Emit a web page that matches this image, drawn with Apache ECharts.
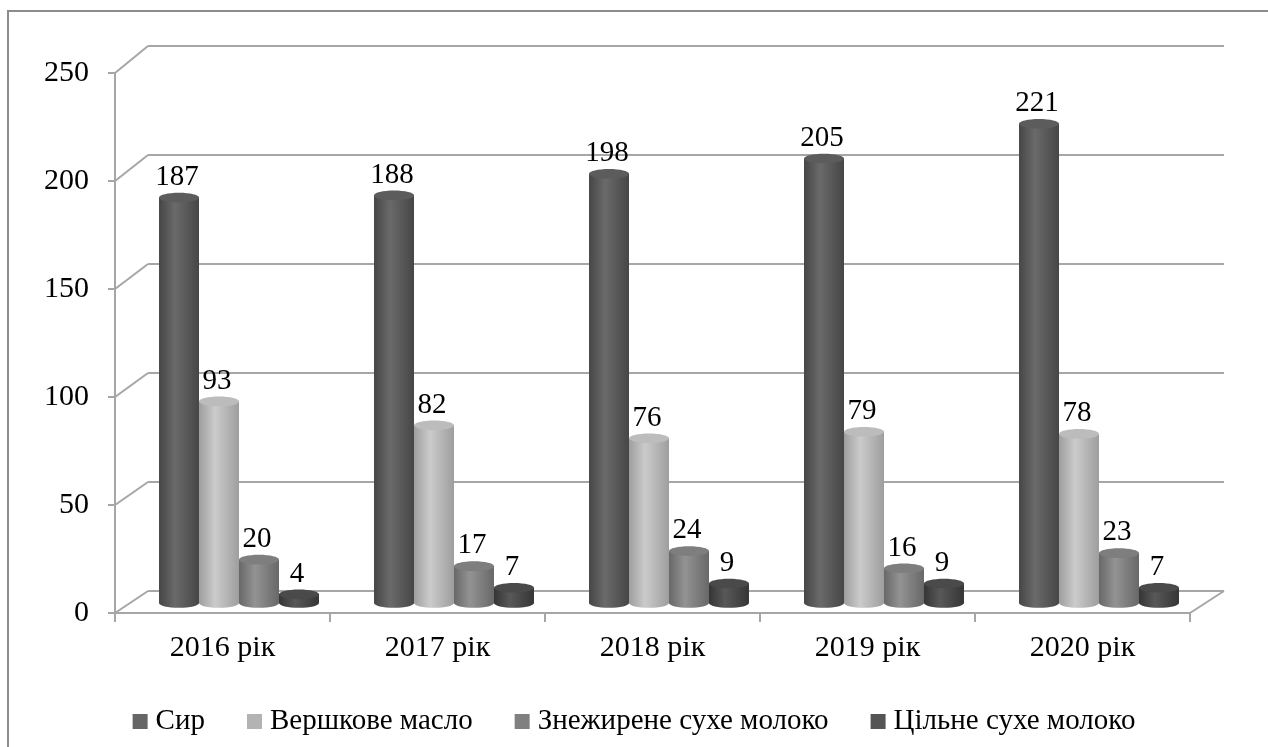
<!DOCTYPE html>
<html>
<head>
<meta charset="utf-8">
<script src="https://cdn.jsdelivr.net/npm/echarts@6/dist/echarts.min.js"></script>
<style>
  html, body { margin: 0; padding: 0; background: #fff; }
  #main { width: 1268px; height: 747px; }
</style>
</head>
<body>
<div id="main"></div>
<script>
var chart = echarts.init(document.getElementById('main'));

var years = ['2016 рік', '2017 рік', '2018 рік', '2019 рік', '2020 рік'];
var names = ['Сир', 'Вершкове масло', 'Знежирене сухе молоко', 'Цільне сухе молоко'];
var cheese = [187, 188, 198, 205, 221];
var butter = [93, 82, 76, 79, 78];
var skimMilk = [20, 17, 24, 16, 23];
var wholeMilk = [4, 7, 9, 9, 7];
var yTicks = [0, 50, 100, 150, 200, 250];

var allData = [cheese, butter, skimMilk, wholeMilk];
var legendColors = ['#666666', '#b3b3b3', '#808080', '#555555'];
// edge / highlight / top colours of each cylinder
var shades = [
    ['#464646', '#6a6a6a', '#5c5c5c'],
    ['#9e9e9e', '#cbcbcb', '#bcbcbc'],
    ['#686868', '#939393', '#7e7e7e'],
    ['#353535', '#585858', '#4a4a4a']
];
var font = '"Liberation Serif", "Times New Roman", serif';
var gridColor = '#a6a6a6';

function makeSeries(k) {
    return {
        name: names[k],
        type: 'custom',
        xAxisIndex: 2,
        yAxisIndex: 2,
        itemStyle: { color: legendColors[k] },
        data: allData[k].map(function (v, i) { return [i, v]; }),
        encode: { x: 0, y: 1 },
        renderItem: function (params, api) {
            var cat = api.value(0), val = api.value(1);
            var top = api.coord([cat, val]);
            var base = api.coord([cat, 0]);
            var w = api.size([1, 0])[0] * 0.186;
            var cx = top[0] + (k - 1.5) * w;
            var ry = w * 0.12;
            var s = shades[k];
            var grad = new echarts.graphic.LinearGradient(0, 0, 1, 0, [
                { offset: 0, color: s[0] },
                { offset: 0.4, color: s[1] },
                { offset: 1, color: s[0] }
            ]);
            return {
                type: 'group',
                children: [
                    { type: 'ellipse', shape: { cx: cx, cy: base[1], rx: w / 2, ry: ry }, style: { fill: grad } },
                    { type: 'rect', shape: { x: cx - w / 2, y: top[1], width: w, height: base[1] - top[1] }, style: { fill: grad } },
                    { type: 'ellipse', shape: { cx: cx, cy: top[1], rx: w / 2, ry: ry }, style: { fill: s[2] } },
                    {
                        type: 'text',
                        style: {
                            text: String(val), x: cx - 2, y: top[1] - ry - 1,
                            align: 'center', verticalAlign: 'bottom',
                            font: '29px ' + font, fill: '#000'
                        }
                    }
                ]
            };
        }
    };
}

var option = {
    animation: false,
    backgroundColor: '#fff',
    grid: [
        // back wall
        { left: 148, right: 44, top: 46, bottom: 156 },
        // front axes
        { left: 115, right: 78, top: 73, bottom: 134 },
        // cylinders (mid depth)
        { left: 131.5, right: 61.5, top: 61, bottom: 144 }
    ],
    xAxis: [
        { gridIndex: 0, type: 'category', data: years, show: false },
        {
            gridIndex: 1, type: 'category', data: years,
            axisLine: { show: true, lineStyle: { color: gridColor, width: 2 } },
            axisTick: { show: true, length: 9, lineStyle: { color: gridColor, width: 2 } },
            axisLabel: { color: '#000', fontSize: 30, fontFamily: font, margin: 20 }
        },
        { gridIndex: 2, type: 'category', data: years, show: false }
    ],
    yAxis: [
        {
            gridIndex: 0, type: 'value', min: 0, max: 250, interval: 50,
            axisLine: { show: false }, axisTick: { show: false }, axisLabel: { show: false },
            splitLine: { show: true, lineStyle: { color: gridColor, width: 2 } }
        },
        {
            gridIndex: 1, type: 'value', min: 0, max: 250, interval: 50,
            axisLine: { show: true, lineStyle: { color: gridColor, width: 2 } },
            axisTick: { show: true, length: 7, lineStyle: { color: gridColor, width: 2 } },
            axisLabel: { color: '#000', fontSize: 30, fontFamily: font, margin: 26 },
            splitLine: { show: false }
        },
        { gridIndex: 2, type: 'value', min: 0, max: 250, interval: 50, show: false, splitLine: { show: false } }
    ],
    legend: {
        bottom: 6,
        left: 'center',
        itemWidth: 15,
        itemHeight: 15,
        itemGap: 42,
        icon: 'rect',
        textStyle: { color: '#000', fontSize: 29, fontFamily: font, padding: [0, 0, 0, 3] },
        data: names
    },
    series: [makeSeries(0), makeSeries(1), makeSeries(2), makeSeries(3)]
};

chart.setOption(option);

// 3D wall edges, computed from the front and back axes
function leftEdge(axisIdx) {
    var p0 = chart.convertToPixel({ xAxisIndex: axisIdx }, years[0]);
    var p1 = chart.convertToPixel({ xAxisIndex: axisIdx }, years[1]);
    return p0 - (p1 - p0) / 2;
}
function rightEdge(axisIdx) {
    var n = years.length;
    var p0 = chart.convertToPixel({ xAxisIndex: axisIdx }, years[n - 2]);
    var p1 = chart.convertToPixel({ xAxisIndex: axisIdx }, years[n - 1]);
    return p1 + (p1 - p0) / 2;
}
var fxL = leftEdge(1), bxL = leftEdge(0), fxR = rightEdge(1), bxR = rightEdge(0);

var lines = [];
yTicks.forEach(function (v) {
    var fy = chart.convertToPixel({ yAxisIndex: 1 }, v);
    var by = chart.convertToPixel({ yAxisIndex: 0 }, v);
    lines.push([fxL, fy, bxL, by]);
});
var fy0 = chart.convertToPixel({ yAxisIndex: 1 }, 0);
var by0 = chart.convertToPixel({ yAxisIndex: 0 }, 0);
lines.push([fxR, fy0, bxR, by0]);

var graphics = lines.map(function (l) {
    return {
        type: 'line', z: -1, silent: true,
        shape: { x1: l[0], y1: l[1], x2: l[2], y2: l[3] },
        style: { stroke: gridColor, lineWidth: 2 }
    };
});
graphics.push({
    type: 'rect', silent: true, z: -2,
    shape: { x: 8, y: 11, width: 1300, height: 800 },
    style: { fill: 'none', stroke: '#8c8c8c', lineWidth: 2 }
});
chart.setOption({ graphic: graphics });
</script>
</body>
</html>
